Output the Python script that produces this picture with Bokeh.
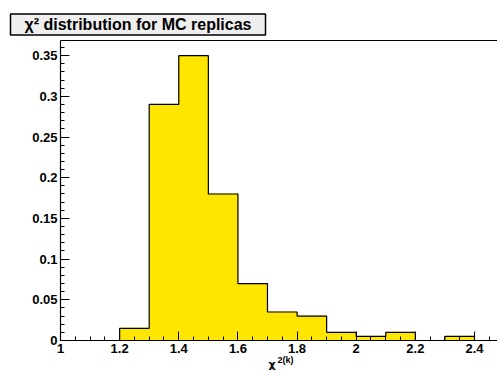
from bokeh.plotting import figure
from bokeh.models import (LinearAxis, SingleIntervalTicker, FixedTicker, Title,
                          CustomJSTickFormatter, Range1d, ColumnDataSource)
from bokeh.embed import file_html
from bokeh.resources import INLINE

# ---- data ----
bin_edges = [1.2, 1.3, 1.4, 1.5, 1.6, 1.7, 1.8, 1.9, 2.0, 2.1, 2.2, 2.3, 2.4, 2.5]
fraction = [0.015, 0.29, 0.35, 0.18, 0.07, 0.035, 0.03, 0.01, 0.005, 0.01, 0.0, 0.005, 0.0]
title_text = "χ² distribution for MC replicas"
x_title_main = "χ"
x_title_sup = "2(k)"

W, H = 497, 372
FL, FR, FT, FB = 60, 497, 40, 340  # frame pixel box
X0, X1 = 1.0, 1.0 + (FR - FL) / 295.7
Y0, Y1 = 0.0, 0.3686

p = figure(width=W, height=H, output_backend="svg", toolbar_location=None,
           x_range=Range1d(X0, X1), y_range=Range1d(Y0, Y1),
           min_border_left=FL, min_border_right=W - FR,
           min_border_top=FT, min_border_bottom=H - FB,
           x_axis_type=None, y_axis_type=None)
p.grid.visible = False
p.outline_line_color = None
p.background_fill_color = "white"
p.border_fill_color = "white"

src = ColumnDataSource(dict(left=bin_edges[:-1], right=bin_edges[1:], top=fraction,
                            bottom=[0.0] * len(fraction)))
p.quad(left="left", right="right", top="top", bottom="bottom", source=src,
       fill_color="#ffe600", line_color="#ffe600", line_width=1)

step_x = [bin_edges[0]] + bin_edges
step_y = [0.0] + fraction + [0.0]
p.step(x=step_x, y=step_y, mode="after", line_color="black", line_width=1.2)

fmt = CustomJSTickFormatter(code="return String(Math.round(tick*100)/100);")
font = "Liberation Sans"

xa = LinearAxis(ticker=SingleIntervalTicker(interval=0.2, num_minor_ticks=4), formatter=fmt)
ya = LinearAxis(ticker=SingleIntervalTicker(interval=0.05, num_minor_ticks=5), formatter=fmt)
for ax in (xa, ya):
    ax.major_tick_in = 9
    ax.major_tick_out = 0
    ax.minor_tick_in = 4
    ax.minor_tick_out = 0
    ax.axis_line_color = "black"
    ax.axis_line_width = 1.2
    ax.major_tick_line_color = "black"
    ax.minor_tick_line_color = "black"
    ax.major_label_text_font = font
    ax.major_label_text_font_style = "bold"
    ax.major_label_text_font_size = "13px"
    ax.major_label_text_color = "black"
    ax.major_label_standoff = 3
p.add_layout(xa, "below")
p.add_layout(ya, "left")

top_ax = LinearAxis(ticker=FixedTicker(ticks=[]), major_label_text_font_size="0px",
                    major_label_standoff=0,
                    major_tick_in=0, major_tick_out=0, minor_tick_in=0, minor_tick_out=0,
                    axis_line_color="black", axis_line_width=1.2)
p.add_layout(top_ax, "above")

# title box
p.add_layout(Title(text=title_text, align="left", offset=10 - FL, standoff=11,
                   text_font=font, text_font_style="bold", text_font_size="16px",
                   text_color="black", background_fill_color="#efefef",
                   border_line_color="black", border_line_width=1.5,
                   padding=(14, 2)), "above")

# x-axis title (chi with superscript)
p.add_layout(Title(text=x_title_sup, align="left", offset=277 - FL, standoff=-5,
                   text_font=font, text_font_style="bold", text_font_size="9px",
                   text_color="black"), "below")
p.add_layout(Title(text=x_title_main, align="left", offset=268 - FL, standoff=-16,
                   text_font="DejaVu Sans", text_font_size="11px",
                   text_color="black"), "below")

open("out.html", "w").write(file_html(p, INLINE))
